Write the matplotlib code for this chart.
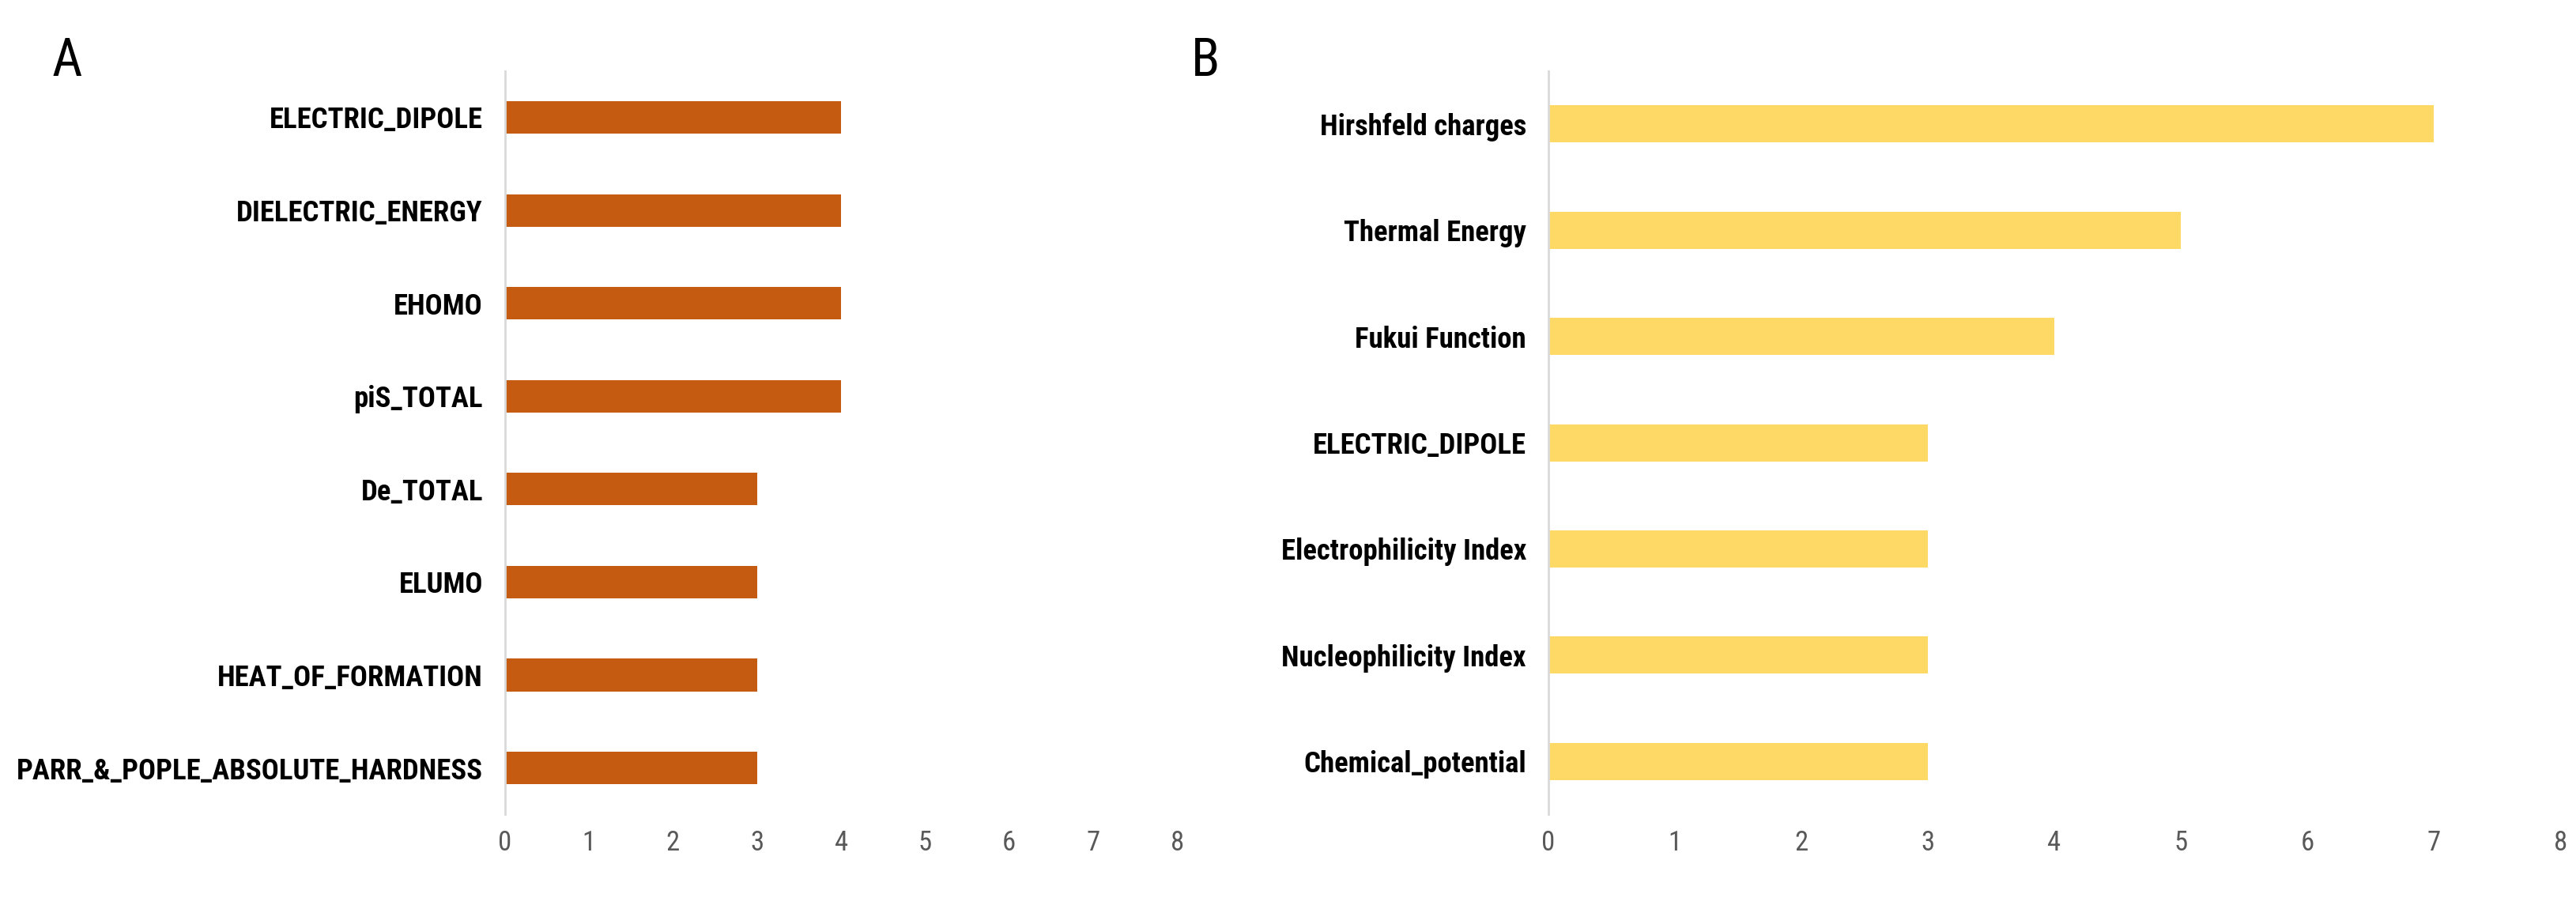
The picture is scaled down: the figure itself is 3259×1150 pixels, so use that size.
import matplotlib
matplotlib.use("Agg")
import matplotlib.pyplot as plt

# panel A
labels_a = ['ELECTRIC_DIPOLE', 'DIELECTRIC_ENERGY', 'EHOMO', 'piS_TOTAL',
            'De_TOTAL', 'ELUMO', 'HEAT_OF_FORMATION', 'PARR_&_POPLE_ABSOLUTE_HARDNESS']
values_a = [4, 4, 4, 4, 3, 3, 3, 3]

# panel B
labels_b = ['Hirshfeld charges', 'Thermal Energy', 'Fukui Function', 'ELECTRIC_DIPOLE',
            'Electrophilicity Index', 'Nucleophilicity Index', 'Chemical_potential']
values_b = [7, 5, 4, 3, 3, 3, 3]

x_ticks = [0, 1, 2, 3, 4, 5, 6, 7, 8]

narrow = ['Roboto Condensed', 'Roboto', 'DejaVu Sans']

fig = plt.figure(figsize=(32.59, 11.5), dpi=100)

def draw(ax, labels, values, color):
    pos = list(range(len(labels)))
    ax.barh(pos, values, height=0.35, color=color)
    ax.set_ylim(len(labels) - 0.5, -0.5)
    ax.set_xlim(0, 8)
    ax.set_yticks(pos)
    ax.set_yticklabels(labels, fontsize=26.5, fontweight='bold', family=narrow)
    ax.set_xticks(x_ticks)
    ax.set_xticklabels([str(t) for t in x_ticks], fontsize=25, color='#595959', family=narrow)
    ax.tick_params(axis='y', length=0, pad=20)
    ax.tick_params(axis='x', length=0, pad=14)
    for s in ['top', 'right', 'bottom']:
        ax.spines[s].set_visible(False)
    ax.spines['left'].set_color('#D9D9D9')
    ax.spines['left'].set_linewidth(2)

ax1 = fig.add_axes([0.196, 0.104, 0.261, 0.818])
draw(ax1, labels_a, values_a, '#C55A11')
ax2 = fig.add_axes([0.601, 0.104, 0.393, 0.818])
draw(ax2, labels_b, values_b, '#FFD966')

fig.text(0.026, 0.96, 'A', fontsize=48, va='top', ha='center', family=narrow)
fig.text(0.468, 0.96, 'B', fontsize=48, va='top', ha='center', family=narrow)

fig.savefig('out.png', dpi=100)
